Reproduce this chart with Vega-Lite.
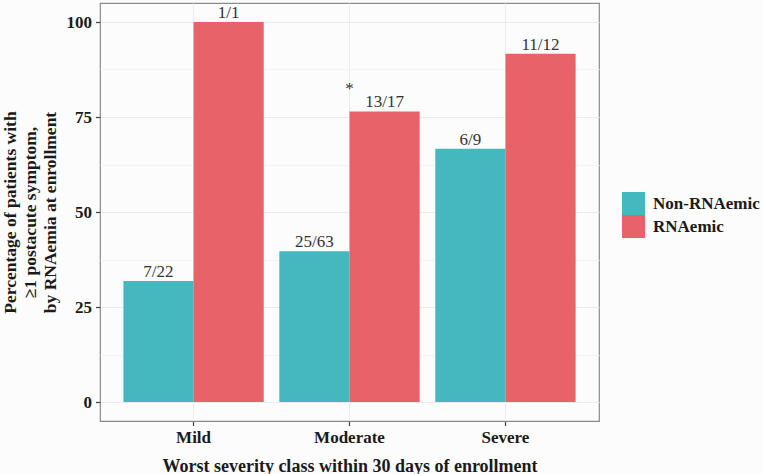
{
  "$schema": "https://vega.github.io/schema/vega-lite/v6.json",
  "width": 499,
  "height": 418,
  "autosize": {"type": "none"},
  "padding": {"left": 100, "top": 3, "right": 164, "bottom": 53},
  "background": "#fcfcfc",
  "config": {
    "view": {"stroke": "#8a8a8a", "strokeWidth": 1.2, "fill": "#fcfcfc"},
    "font": "Liberation Serif"
  },
  "data": {
    "values": [
      {"severity": "Mild", "group": "Non-RNAemic", "pct": 31.82, "label": "7/22"},
      {"severity": "Mild", "group": "RNAemic", "pct": 100, "label": "1/1"},
      {"severity": "Moderate", "group": "Non-RNAemic", "pct": 39.68, "label": "25/63"},
      {"severity": "Moderate", "group": "RNAemic", "pct": 76.47, "label": "13/17"},
      {"severity": "Severe", "group": "Non-RNAemic", "pct": 66.67, "label": "6/9"},
      {"severity": "Severe", "group": "RNAemic", "pct": 91.67, "label": "11/12"}
    ]
  },
  "encoding": {
    "x": {
      "field": "severity", "type": "nominal",
      "sort": ["Mild", "Moderate", "Severe"],
      "scale": {"paddingInner": 0.1, "paddingOuter": 0.15},
      "axis": {
        "title": "Worst severity class within 30 days of enrollment",
        "titleFont": "Liberation Serif", "titleFontSize": 18, "titleFontWeight": "bold", "titleColor": "#1a1a1a",
        "titleBaseline": "alphabetic", "titleY": 50, "titleX": 249.5,
        "labelFont": "Liberation Serif", "labelFontSize": 17, "labelFontWeight": "bold", "labelColor": "#1a1a1a",
        "labelAngle": 0, "labelPadding": 4,
        "domain": false, "ticks": true, "tickSize": 4.5, "tickColor": "#444", "tickWidth": 1.2,
        "grid": true, "gridColor": "#ececec", "gridWidth": 1,
        "bandPosition": 0.5
      }
    },
    "y": {
      "field": "pct", "type": "quantitative",
      "scale": {"domain": [-5, 105], "nice": false, "zero": false},
      "axis": {
        "values": [0, 12.5, 25, 37.5, 50, 62.5, 75, 87.5, 100],
        "labelExpr": "datum.value % 25 === 0 ? datum.label : ''",
        "title": ["Percentage of patients with", "≥1 postacute symptom,", "by RNAemia at enrollment"],
        "titleFont": "Liberation Serif", "titleFontSize": 17.5, "titleFontWeight": "bold", "titleColor": "#1a1a1a",
        "titleAngle": -90, "titleBaseline": "top", "titleAlign": "center",
        "titleX": -99, "titleY": 209, "titleLineHeight": 20,
        "labelFont": "Liberation Serif", "labelFontSize": 17, "labelFontWeight": "bold", "labelColor": "#1a1a1a",
        "labelPadding": 4,
        "domain": false, "tickSize": 4.5, "tickWidth": 1.2,
        "tickColor": {"condition": {"test": "datum.value % 25 === 0", "value": "#444"}, "value": "transparent"},
        "gridColor": {"condition": {"test": "datum.value % 25 === 0", "value": "#ebebeb"}, "value": "#f4f4f4"},
        "gridWidth": 1
      }
    }
  },
  "layer": [
    {
      "mark": {"type": "bar"},
      "encoding": {
        "xOffset": {"field": "group", "type": "nominal", "scale": {"paddingInner": 0, "paddingOuter": 0}},
        "color": {
          "field": "group", "type": "nominal",
          "scale": {"domain": ["Non-RNAemic", "RNAemic"], "range": ["#45b7bf", "#e8626a"]},
          "legend": {
            "title": null, "orient": "none", "legendX": 522, "legendY": 189,
            "symbolType": "square", "symbolSize": 529, "symbolStrokeWidth": 0, "symbolOpacity": 1,
            "rowPadding": 0, "labelOffset": 8,
            "labelFont": "Liberation Serif", "labelFontSize": 17, "labelFontWeight": "bold", "labelColor": "#1a1a1a"
          }
        }
      }
    },
    {
      "mark": {"type": "text", "baseline": "alphabetic", "dy": -4, "fontSize": 17, "font": "Liberation Serif", "color": "#333"},
      "encoding": {
        "xOffset": {"field": "group", "type": "nominal", "scale": {"paddingInner": 0, "paddingOuter": 0}},
        "text": {"field": "label"}
      }
    },
    {
      "data": {"values": [{"severity": "Moderate", "pct": 76.47, "star": "*"}]},
      "mark": {"type": "text", "baseline": "alphabetic", "dy": -17, "fontSize": 17, "font": "Liberation Serif", "color": "#333"},
      "encoding": {
        "text": {"field": "star"}
      }
    }
  ]
}
